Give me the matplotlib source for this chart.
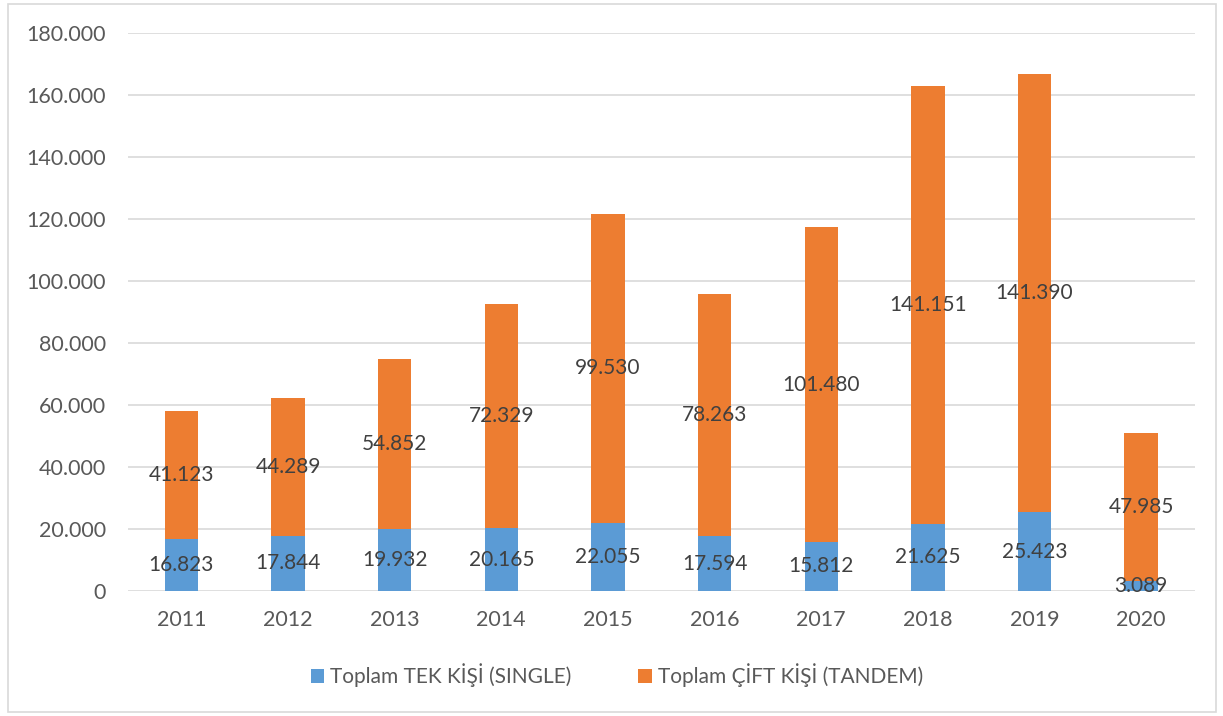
import matplotlib.pyplot as plt
from matplotlib.patches import Rectangle
from matplotlib.ticker import FuncFormatter

years = ["2011", "2012", "2013", "2014", "2015", "2016", "2017", "2018", "2019", "2020"]
single = [16823, 17844, 19932, 20165, 22055, 17594, 15812, 21625, 25423, 3089]
tandem = [41123, 44289, 54852, 72329, 99530, 78263, 101480, 141151, 141390, 47985]

blue = "#5B9BD5"
orange = "#ED7D31"

plt.rcParams["font.family"] = ["Lato", "DejaVu Sans"]

def fmt(v):
    return f"{int(v):,}".replace(",", ".")

fig = plt.figure(figsize=(12.23, 7.16), dpi=100)
ax = fig.add_axes([0.1047, 0.1746, 0.872, 0.7793])

x = range(len(years))
ax.bar(x, single, width=0.313, color=blue, label="Toplam TEK KİŞİ (SINGLE)", zorder=3)
ax.bar(x, tandem, width=0.313, bottom=single, color=orange,
       label="Toplam ÇİFT KİŞİ (TANDEM)", zorder=3)

for i in x:
    ax.text(i, single[i] / 2, fmt(single[i]), ha="center", va="center",
            fontsize=15, color="#404040", zorder=4)
    ax.text(i, single[i] + tandem[i] / 2, fmt(tandem[i]), ha="center", va="center",
            fontsize=15, color="#404040", zorder=4)

ax.set_ylim(0, 180000)
ax.set_yticks(range(0, 180001, 20000))
ax.yaxis.set_major_formatter(FuncFormatter(lambda v, p: fmt(v)))
ax.set_xlim(-0.5, len(years) - 0.5)
ax.set_xticks(list(x))
ax.set_xticklabels(years)
ax.tick_params(axis="both", length=0, labelsize=15.5, labelcolor="#595959")
ax.tick_params(axis="y", pad=16)
ax.tick_params(axis="x", pad=14)
ax.grid(axis="y", color="#D9D9D9", linewidth=1.2, zorder=0)
for s in ax.spines.values():
    s.set_visible(False)

fig.legend(loc="center", bbox_to_anchor=(617 / 1223, 1 - 675 / 716), ncol=2,
           frameon=False, fontsize=15, labelcolor="#595959", handlelength=0.65,
           handleheight=0.65, handletextpad=0.3, columnspacing=3.2)

fig.patches.append(Rectangle((8 / 1223, 4 / 716), 1208 / 1223, 708 / 716,
                             transform=fig.transFigure, fill=False,
                             edgecolor="#D9D9D9", linewidth=1.2))

fig.savefig("out.png", dpi=100)
